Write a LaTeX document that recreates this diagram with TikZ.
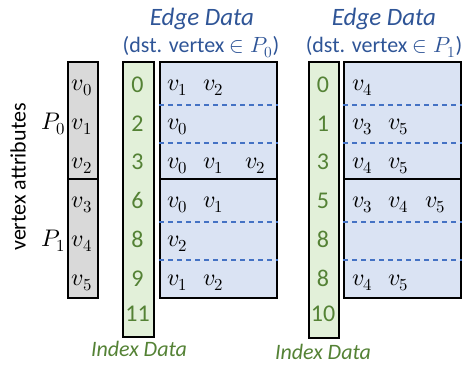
\documentclass[tikz,border=0pt]{standalone}
\usepackage{fontspec}
\usepackage{unicode-math}
\setmainfont{Carlito}
\setmathfont{Latin Modern Math}
\definecolor{attrgray}{HTML}{D9D9D9}
\definecolor{idxgreen}{HTML}{E2F0D9}
\definecolor{edgeblue}{HTML}{DAE3F3}
\definecolor{dashblue}{HTML}{4472C4}
\definecolor{titleblue}{HTML}{2F5597}
\definecolor{numgreen}{HTML}{548235}
\begin{document}
\begin{tikzpicture}[x=1pt,y=-1pt,
  box/.style={draw=black,line width=1.8pt,inner sep=0,anchor=north west},
  sep/.style={draw=black,line width=1.8pt},
  dsep/.style={draw=dashblue,line width=1.1pt,dash pattern=on 5pt off 4pt},
  vtx/.style={inner sep=0,anchor=base west,font=\fontsize{24}{26}\selectfont},
  gv/.style={inner sep=0,anchor=base,font=\fontsize{24}{26}\selectfont},
  num/.style={inner sep=0,anchor=base,text=numgreen,font=\fontsize{24}{26}\selectfont},
  title/.style={inner sep=0,text=titleblue,font=\fontsize{25}{28}\selectfont\itshape},
  sub/.style={inner sep=0,text=titleblue,font=\fontsize{22}{24}\selectfont},
  idx/.style={inner sep=0,text=numgreen,font=\fontsize{22}{24}\selectfont\itshape}]
\useasboundingbox (0,0) rectangle (462,365);

% boxes
\node[box,fill=attrgray,minimum width=30pt,minimum height=236pt] (attr) at (67,61) {};
\node[box,fill=idxgreen,minimum width=31pt,minimum height=275pt] (idxA) at (122,61) {};
\node[box,fill=edgeblue,minimum width=117pt,minimum height=236pt] (edgeA) at (159,61) {};
\node[box,fill=idxgreen,minimum width=30pt,minimum height=276pt] (idxB) at (308,61) {};
\node[box,fill=edgeblue,minimum width=117pt,minimum height=236pt] (edgeB) at (343,61) {};

% partition boundaries
\draw[sep] (attr.west |- 0,179) -- (attr.east |- 0,179);
\draw[sep] (edgeA.west |- 0,179) -- (edgeA.east |- 0,179);
\draw[sep] (edgeB.west |- 0,179) -- (edgeB.east |- 0,179);

% per-vertex edge lists
\foreach \yy in {105,143,222,260}{
  \draw[dsep] (edgeA.west |- 0,\yy) -- (edgeA.east |- 0,\yy);
  \draw[dsep] (edgeB.west |- 0,\yy) -- (edgeB.east |- 0,\yy);
}

% vertex attributes
\node[gv] (a0) at (82,90) {$v_0$};
\node[gv] (a1) at (82,129) {$v_1$};
\node[gv] (a2) at (82,168) {$v_2$};
\node[gv] (a3) at (82,207) {$v_3$};
\node[gv] (a4) at (82,246) {$v_4$};
\node[gv] (a5) at (82,285) {$v_5$};
\node[inner sep=0,anchor=base east,font=\fontsize{24}{26}\selectfont] (p0) at (66,129) {$P_0$};
\node[inner sep=0,anchor=base east,font=\fontsize{24}{26}\selectfont] (p1) at (66,246) {$P_1$};
\node[inner sep=0,rotate=90,font=\fontsize{22}{24}\selectfont] (va) at (18,177) {vertex attributes};

% index data, first partition
\node[num] (iA0) at (137.5,92) {0};
\node[num] (iA1) at (137.5,131) {2};
\node[num] (iA2) at (137.5,169) {3};
\node[num] (iA3) at (137.5,208) {6};
\node[num] (iA4) at (137.5,247) {8};
\node[num] (iA5) at (137.5,286) {9};
\node[num] (iA6) at (137.5,321) {11};

% index data, second partition
\node[num] (iB0) at (323,92) {0};
\node[num] (iB1) at (323,131) {1};
\node[num] (iB2) at (323,169) {3};
\node[num] (iB3) at (323,208) {5};
\node[num] (iB4) at (323,247) {8};
\node[num] (iB5) at (323,286) {8};
\node[num] (iB6) at (323,321) {10};

% edge data, dst in P0
\node[vtx] (eA01) at (167,90) {$v_1$};
\node[vtx] (eA02) at (203,90) {$v_2$};
\node[vtx] (eA11) at (167,129) {$v_0$};
\node[vtx] (eA21) at (167,168) {$v_0$};
\node[vtx] (eA22) at (203,168) {$v_1$};
\node[vtx] (eA23) at (245,168) {$v_2$};
\node[vtx] (eA31) at (167,207) {$v_0$};
\node[vtx] (eA32) at (203,207) {$v_1$};
\node[vtx] (eA41) at (167,246) {$v_2$};
\node[vtx] (eA51) at (167,285) {$v_1$};
\node[vtx] (eA52) at (203,285) {$v_2$};

% edge data, dst in P1
\node[vtx] (eB01) at (352,90) {$v_4$};
\node[vtx] (eB11) at (352,129) {$v_3$};
\node[vtx] (eB12) at (388,129) {$v_5$};
\node[vtx] (eB21) at (352,168) {$v_4$};
\node[vtx] (eB22) at (388,168) {$v_5$};
\node[vtx] (eB31) at (352,207) {$v_3$};
\node[vtx] (eB32) at (388,207) {$v_4$};
\node[vtx] (eB33) at (425,207) {$v_5$};
\node[vtx] (eB51) at (352,285) {$v_4$};
\node[vtx] (eB52) at (388,285) {$v_5$};

% titles
\node[title] (tA) at (202,19) {Edge Data};
\node[sub] (sA) at (201,47) {(dst. vertex $\in P_0$)};
\node[title] (tB) at (384,19) {Edge Data};
\node[sub] (sB) at (384,47) {(dst. vertex $\in P_1$)};
\node[idx] (lA) at (139,349) {Index Data};
\node[idx] (lB) at (323,352) {Index Data};
\end{tikzpicture}
\end{document}
